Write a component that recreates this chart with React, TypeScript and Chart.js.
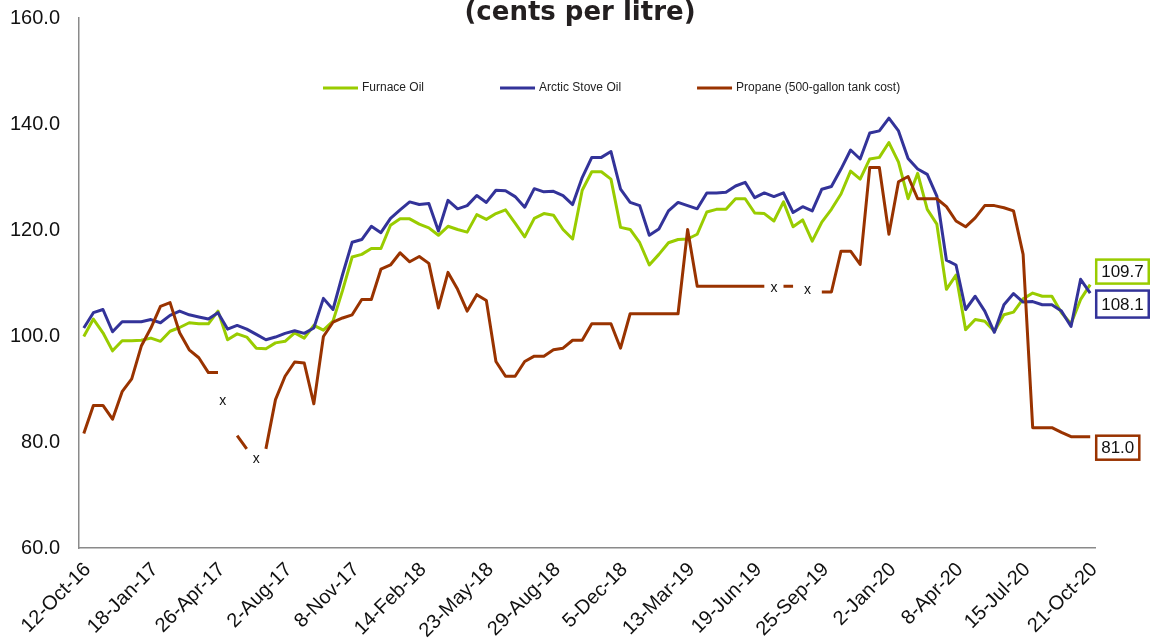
import React, { useEffect, useRef } from 'react';
import { Chart, registerables } from 'chart.js';

Chart.register(...registerables);

const tickLabels = [
  '12-Oct-16', '18-Jan-17', '26-Apr-17', '2-Aug-17', '8-Nov-17', '14-Feb-18',
  '23-May-18', '29-Aug-18', '5-Dec-18', '13-Mar-19', '19-Jun-19', '25-Sep-19',
  '2-Jan-20', '8-Apr-20', '15-Jul-20', '21-Oct-20',
];

const furnaceOil = [
  99.9, 103.2, 100.6, 97.2, 99.1, 99.1, 99.2, 99.6, 99.0, 100.9,
  101.6, 102.5, 102.3, 102.3, 104.7, 99.3, 100.4, 99.8, 97.7, 97.6,
  98.7, 99.0, 100.6, 99.6, 102.0, 101.1, 102.8, 108.6, 114.9, 115.4,
  116.5, 116.5, 120.9, 122.1, 122.1, 121.1, 120.4, 119.0, 120.7, 120.1,
  119.6, 122.9, 122.0, 123.1, 123.8, 121.3, 118.7, 122.2, 123.1, 122.8,
  120.1, 118.3, 127.5, 131.0, 131.0, 129.6, 120.5, 120.1, 117.6, 113.4,
  115.4, 117.6, 118.2, 118.3, 119.2, 123.4, 123.9, 123.9, 125.9, 125.9,
  123.2, 123.1, 121.7, 125.3, 120.6, 121.9, 117.9, 121.5, 123.9, 126.8,
  131.1, 129.6, 133.4, 133.7, 136.5, 132.8, 125.9, 130.7, 123.9, 121.1,
  108.8, 111.5, 101.2, 103.1, 102.8, 100.9, 104.0, 104.5, 107.0, 108.1,
  107.5, 107.5, 104.4, 102.3, 106.9, 109.7,
];

const arcticStoveOil = [
  101.5, 104.4, 105.0, 100.8, 102.7, 102.7, 102.7, 103.1, 102.5, 103.9,
  104.7, 104.0, 103.6, 103.2, 104.4, 101.3, 102.0, 101.3, 100.3, 99.3,
  99.8, 100.5, 101.0, 100.5, 101.5, 107.1, 105.0, 111.6, 117.7, 118.2,
  120.7, 119.5, 122.2, 123.8, 125.3, 124.8, 125.0, 119.8, 125.6, 124.0,
  124.6, 126.5, 125.2, 127.5, 127.4, 126.3, 124.3, 127.8, 127.2, 127.3,
  126.5, 124.8, 129.9, 133.7, 133.7, 134.8, 127.7, 125.2, 124.6, 119.0,
  120.2, 123.6, 125.2, 124.6, 124.0, 127.0, 127.0, 127.1, 128.3, 129.0,
  126.1, 127.0, 126.3, 127.0, 123.3, 124.4, 123.6, 127.7, 128.2, 131.5,
  135.1, 133.4, 138.3, 138.7, 141.1, 138.7, 133.5, 131.5, 130.5, 126.4,
  114.3, 113.4, 105.0, 107.5, 104.7, 100.7, 105.9, 108.0, 106.4, 106.5,
  105.9, 105.9, 104.7, 101.8, 110.7, 108.1,
];

const propane = [
  81.6, 86.9, 86.9, 84.3, 89.5, 91.9, 98.1, 101.5, 105.6, 106.3,
  100.6, 97.4, 95.9, 93.1, 93.1, null, 81.2, 78.7, null, 78.7,
  88.0, 92.4, 95.1, 94.9, 87.2, 99.9, 102.6, 103.4, 104.0, 106.9,
  106.9, 112.6, 113.4, 115.7, 114.0, 115.0, 113.7, 105.3, 112.0, 108.8,
  104.7, 107.8, 106.7, 95.2, 92.4, 92.4, 95.2, 96.2, 96.2, 97.4,
  97.7, 99.2, 99.2, 102.3, 102.3, 102.3, 97.7, 104.2, 104.2, 104.2,
  104.2, 104.2, 104.2, 120.1, 109.4, 109.4, 109.4, 109.4, 109.4, 109.4,
  109.4, 109.4, null, 109.4, 109.4, null, null, 108.3, 108.3, 116.0,
  116.0, 113.5, 131.8, 131.8, 119.2, 129.1, 130.1, 125.9, 125.9, 125.9,
  124.4, 121.7, 120.6, 122.3, 124.6, 124.6, 124.2, 123.6, 115.4, 82.7,
  82.7, 82.7, 81.8, 81.0, 81.0, 81.0,
];

// "x" markers shown where propane data is missing (category position, value)
const gapMarkIndex = [14.5, 18, 72, 75.5];
const gapMarkValue = [87.7, 76.7, 109.1, 108.7];

const seriesNames = ['Furnace Oil', 'Arctic Stove Oil', 'Propane (500-gallon tank cost)'];
const seriesColors = ['#99CC00', '#333399', '#993300'];

const titleText = '(cents per litre)';

const categories = furnaceOil.map((_, i) => (i % 7 === 0 ? tickLabels[i / 7] : ''));

const FONT = "'Liberation Sans', Arial, sans-serif";

const overlayPlugin = {
  id: 'overlay',
  afterDraw(chart: any) {
    const { ctx, scales } = chart;
    const xs = scales.x;
    const ys = scales.y;
    ctx.save();

    // Title
    ctx.fillStyle = '#231f20';
    ctx.font = "bold 26px 'DejaVu Sans'";
    ctx.textAlign = 'center';
    ctx.textBaseline = 'alphabetic';
    ctx.fillText(titleText, 580, 19.5);

    // Legend
    ctx.font = `12px ${FONT}`;
    ctx.textAlign = 'left';
    ctx.textBaseline = 'middle';
    let lx = 323;
    const ly = 88;
    chart.data.datasets.forEach((ds: any) => {
      ctx.strokeStyle = ds.borderColor;
      ctx.lineWidth = 3;
      ctx.beginPath();
      ctx.moveTo(lx, ly);
      ctx.lineTo(lx + 35, ly);
      ctx.stroke();
      ctx.fillStyle = '#222';
      ctx.fillText(ds.label, lx + 39, ly);
      lx += 39 + ctx.measureText(ds.label).width + 76;
    });

    // Gap "x" markers on propane
    ctx.font = `14px ${FONT}`;
    ctx.fillStyle = '#111';
    ctx.textAlign = 'center';
    ctx.textBaseline = 'alphabetic';
    gapMarkIndex.forEach((idx, k) => {
      const px = xs.getPixelForValue(idx);
      const py = ys.getPixelForValue(gapMarkValue[k]);
      ctx.fillText('x', px, py + 4);
    });

    // End labels
    const offsets = [-13, 11, 11];
    ctx.font = `17px ${FONT}`;
    chart.data.datasets.forEach((ds: any, di: number) => {
      const data = ds.data;
      const last = data.length - 1;
      const v = data[last];
      const px = xs.getPixelForValue(last) + 6;
      const cy = ys.getPixelForValue(v) + offsets[di];
      const txt = v.toFixed(1);
      const w = ctx.measureText(txt).width + 10;
      const h = di === 1 ? 27 : 24;
      ctx.fillStyle = '#fff';
      ctx.fillRect(px, cy - h / 2, w, h);
      ctx.strokeStyle = ds.borderColor;
      ctx.lineWidth = 2.5;
      ctx.strokeRect(px, cy - h / 2, w, h);
      ctx.fillStyle = '#111';
      ctx.textAlign = 'center';
      ctx.textBaseline = 'middle';
      ctx.fillText(txt, px + w / 2, cy + 1);
    });

    ctx.restore();
  },
};

export default function App() {
  const ref = useRef<HTMLCanvasElement>(null);

  useEffect(() => {
    if (!ref.current) return;
    const series = [furnaceOil, arcticStoveOil, propane];
    const chart = new Chart(ref.current, {
      type: 'line',
      data: {
        labels: categories,
        datasets: series.map((d, i) => ({
          label: seriesNames[i],
          data: d,
          borderColor: seriesColors[i],
          backgroundColor: seriesColors[i],
          borderWidth: 3,
          pointRadius: 0,
          pointHoverRadius: 0,
          tension: 0,
          spanGaps: false,
          borderJoinStyle: 'round' as const,
          order: 2 - i,
        })),
      },
      options: {
        animation: false,
        responsive: true,
        maintainAspectRatio: false,
        layout: { padding: { top: 18, right: 56, left: 0, bottom: 0 } },
        plugins: {
          legend: { display: false },
          title: { display: false },
          tooltip: { enabled: false },
        },
        scales: {
          x: {
            type: 'category',
            offset: true,
            grid: { display: false, drawTicks: false, tickLength: 0 },
            border: { display: true, color: '#8a8a8a', width: 1.5 },
            ticks: {
              autoSkip: false,
              maxRotation: 45,
              minRotation: 45,
              padding: 10,
              labelOffset: 4,
              color: '#111',
              font: { family: FONT, size: 20 },
            },
            afterFit: (s: any) => { s.height = 94; },
          },
          y: {
            min: 60,
            max: 160,
            grid: { display: false, drawTicks: false, tickLength: 0 },
            border: { display: true, color: '#8a8a8a', width: 1.5 },
            ticks: {
              stepSize: 20,
              padding: 19,
              color: '#111',
              font: { family: FONT, size: 20 },
              callback: (v: any) => Number(v).toFixed(1),
            },
            afterFit: (s: any) => {
              s.width = 79;
              s.paddingTop = 0;
              s.paddingBottom = 0;
            },
          },
        },
      },
      plugins: [overlayPlugin],
    });
    return () => chart.destroy();
  }, []);

  return (
    <div style={{ position: 'fixed', left: 0, top: 0, width: 1151, height: 642 }}>
      <canvas ref={ref} />
    </div>
  );
}
